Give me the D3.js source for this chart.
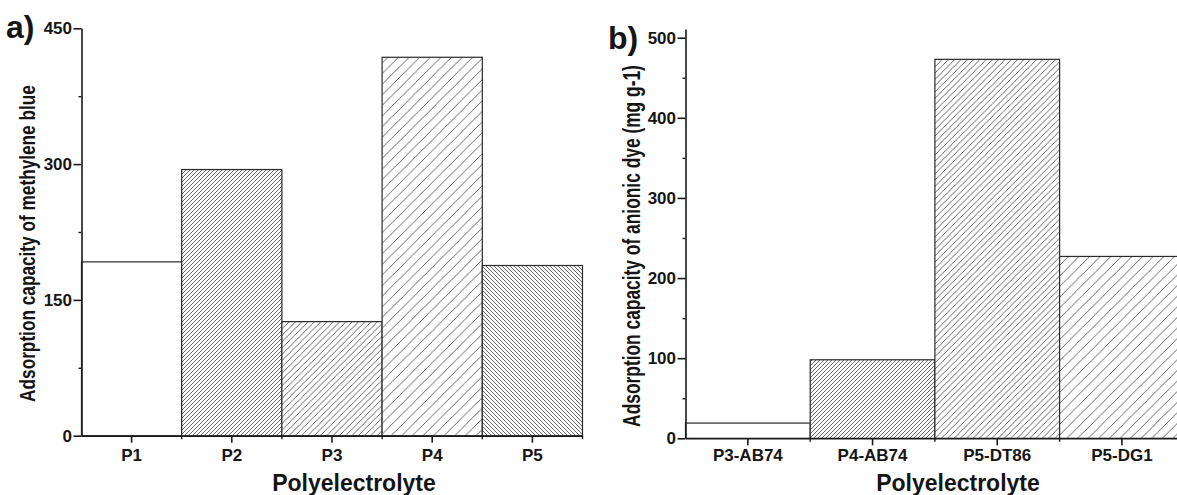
<!DOCTYPE html>
<html>
<head>
<meta charset="utf-8">
<script src="https://cdn.jsdelivr.net/npm/d3@7"></script>
<style>
  html, body { margin: 0; padding: 0; background: #ffffff; }
  svg { display: block; }
  text { font-family: "Liberation Sans", Arial, sans-serif; fill: #151515; }
</style>
</head>
<body>
<script>
// ---------- data ----------
const categoriesA = ["P1", "P2", "P3", "P4", "P5"];
const valuesA = [192, 294, 126, 418, 188];
const patternsA = ["none", "dense", "medium", "wide", "back"];
const yTicksA = [0, 150, 300, 450];
const yMinorA = [75, 225, 375];
const yTitleA = "Adsorption capacity of methylene blue";

const categoriesB = ["P3-AB74", "P4-AB74", "P5-DT86", "P5-DG1"];
const valuesB = [19, 98, 473, 227];
const patternsB = ["none", "dense", "medium", "wide"];
const yTicksB = [0, 100, 200, 300, 400, 500];
const yMinorB = [50, 150, 250, 350, 450];
const yTitleB = "Adsorption capacity of anionic dye (mg g-1)";

const xTitle = "Polyelectrolyte";

// ---------- svg ----------
const W = 1177, H = 495;
const svg = d3.select("body").append("svg").attr("width", W).attr("height", H);
svg.append("rect").attr("width", W).attr("height", H).attr("fill", "#fff");

// hatch patterns: "/" runs bottom-left to top-right, "\" the other way
const defs = svg.append("defs");
const hatchDefs = {
  dense:  { w: 4.0, dir: "fwd" },
  medium: { w: 6.3, dir: "fwd" },
  wide:   { w: 10.6, dir: "fwd" },
  back:   { w: 4.0, dir: "back" }
};
Object.entries(hatchDefs).forEach(([k, h]) => {
  const w = h.w;
  const p = defs.append("pattern")
    .attr("id", "hatch-" + k)
    .attr("patternUnits", "userSpaceOnUse")
    .attr("width", w).attr("height", w);
  p.append("rect").attr("width", w).attr("height", w).attr("fill", "#fff");
  const d = h.dir === "fwd"
    ? `M0,${w} L${w},0 M${-w / 2},${w / 2} L${w / 2},${-w / 2} M${w / 2},${w * 1.5} L${w * 1.5},${w / 2}`
    : `M0,0 L${w},${w} M${-w / 2},${w / 2} L${w / 2},${w * 1.5} M${w / 2},${-w / 2} L${w * 1.5},${w / 2}`;
  p.append("path").attr("d", d)
    .attr("stroke", "#555").attr("stroke-width", 0.9).attr("fill", "none");
});
const fillFor = k => k === "none" ? "#fff" : `url(#hatch-${k})`;

function panel(cfg) {
  const g = svg.append("g");
  const x = d3.scaleBand().domain(cfg.cats).range(cfg.xRange).paddingInner(0).paddingOuter(0);
  const y = d3.scaleLinear().domain(cfg.yDomain).range(cfg.yRange);

  // bars
  g.selectAll("rect.bar").data(cfg.cats).join("rect")
    .attr("class", "bar")
    .attr("x", d => x(d))
    .attr("width", x.bandwidth())
    .attr("y", (d, i) => y(cfg.vals[i]))
    .attr("height", (d, i) => y(0) - y(cfg.vals[i]))
    .attr("fill", (d, i) => fillFor(cfg.pats[i]))
    .attr("stroke", "#2a2a2a").attr("stroke-width", 1.2);

  // y axis major
  const ya = g.append("g").attr("transform", `translate(${cfg.xRange[0]},0)`)
    .call(d3.axisLeft(y).tickValues(cfg.yTicks).tickSize(8).tickSizeOuter(0).tickPadding(1.5).tickFormat(d3.format("d")));
  ya.select(".domain").attr("stroke", "#1a1a1a").attr("stroke-width", 1.6);
  ya.selectAll(".tick line").attr("stroke", "#1a1a1a").attr("stroke-width", 1.6);
  ya.selectAll(".tick text").attr("font-size", 17).attr("font-weight", "bold").attr("fill", "#151515");
  // y minor
  const ym = g.append("g").attr("transform", `translate(${cfg.xRange[0]},0)`)
    .call(d3.axisLeft(y).tickValues(cfg.yMinor).tickSize(3).tickSizeOuter(0).tickFormat(""));
  ym.select(".domain").remove();
  ym.selectAll(".tick line").attr("stroke", "#1a1a1a").attr("stroke-width", 1.4);

  // x axis
  const xa = g.append("g").attr("transform", `translate(0,${y(0)})`)
    .call(d3.axisBottom(x).tickSize(7).tickSizeOuter(0).tickPadding(cfg.xPad));
  xa.select(".domain").attr("stroke", "#1a1a1a").attr("stroke-width", 1.6);
  xa.selectAll(".tick line").attr("stroke", "#1a1a1a").attr("stroke-width", 1.6);
  xa.selectAll(".tick text").attr("font-size", 17).attr("font-weight", "bold").attr("fill", "#151515");
  // band boundary ticks
  g.append("g").selectAll("line").data(cfg.cats.slice(1).concat(["__end"])).join("line")
    .attr("x1", d => d === "__end" ? cfg.xRange[1] : x(d))
    .attr("x2", d => d === "__end" ? cfg.xRange[1] : x(d))
    .attr("y1", y(0)).attr("y2", y(0) + 3.5)
    .attr("stroke", "#1a1a1a").attr("stroke-width", 1.4);

  // x title
  g.append("text").attr("x", cfg.xTitleX).attr("y", 491)
    .attr("text-anchor", "middle").attr("font-size", 23).attr("font-weight", "bold")
    .text(xTitle);

  // y title (condensed along its length)
  const yt = g.append("text")
    .attr("text-anchor", "middle")
    .attr("font-size", cfg.yTitle.fs).attr("font-weight", "bold")
    .text(cfg.yTitle.text);
  const natural = yt.node().getComputedTextLength() || cfg.yTitle.len;
  const sx = Math.min(1, cfg.yTitle.len / natural);
  yt.attr("transform", `translate(${cfg.yTitle.x},${cfg.yTitle.cy}) rotate(-90) scale(${sx},1)`);

  // panel letter
  g.append("text").attr("x", cfg.letter.x).attr("y", cfg.letter.y)
    .attr("font-size", 32).attr("font-weight", "bold").attr("fill", "#1e1e1e")
    .text(cfg.letter.t);
}

panel({
  cats: categoriesA, vals: valuesA, pats: patternsA,
  xRange: [81.5, 582.5], yDomain: [0, 450], yRange: [435.7, 28.3],
  yTicks: yTicksA, yMinor: yMinorA, xPad: 6,
  xTitleX: 354,
  yTitle: { text: yTitleA, x: 35, cy: 243.5, len: 317, fs: 22 },
  letter: { t: "a)", x: 6, y: 38 }
});

panel({
  cats: categoriesB, vals: valuesB, pats: patternsB,
  xRange: [685.5, 1184.3], yDomain: [0, 511], yRange: [438.3, 438.3 - 511 * 0.8012],
  yTicks: yTicksB, yMinor: yMinorB, xPad: 4,
  xTitleX: 958,
  yTitle: { text: yTitleB, x: 640, cy: 246, len: 362, fs: 24 },
  letter: { t: "b)", x: 608, y: 49 }
});
</script>
</body>
</html>
